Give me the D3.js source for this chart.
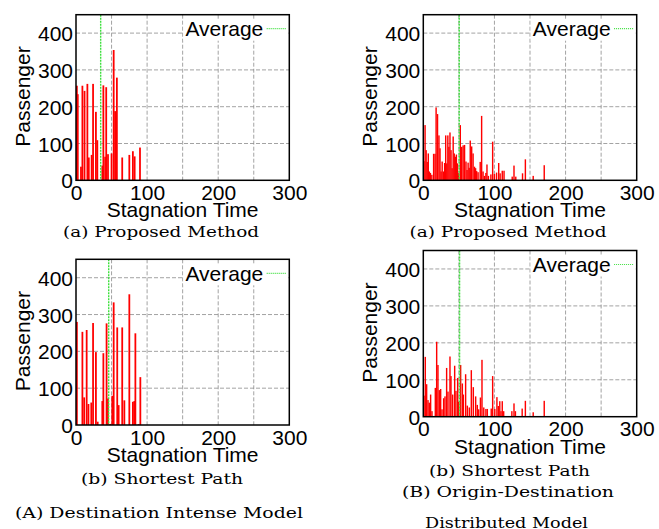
<!DOCTYPE html>
<html><head><meta charset="utf-8">
<script src="https://cdn.jsdelivr.net/npm/d3@7"></script>
<style>body{margin:0;background:#fff}svg{display:block}</style>
</head><body>
<svg id="c" width="659" height="529"></svg>
<script>
// ---------- data ----------
const xTickValues = [0, 100, 200, 300];
const xGridValues = [50, 100, 150, 200, 250];
const yTickValues = [0, 100, 200, 300, 400];
const xTitle = "Stagnation Time";
const yTitle = "Passenger";
const legendLabel = "Average";

// (A) Destination Intense Model – (a) Proposed Method
const p1Time = [0.5, 2.5, 7, 9, 12, 16, 18, 22, 24, 28, 30, 37, 38.5, 41, 42.5, 45, 50, 53, 55, 57.5, 65, 75, 80, 82.5, 90];
const p1Pass = [257, 234, 37, 257, 243, 262, 62, 69, 262, 186, 109, 40, 258, 64, 253, 71, 73, 354, 188, 279, 62, 69, 79, 65, 89];
const p1Average = 34.7;

// (B) Origin-Destination Distributed Model – (a) Proposed Method
const p2Time = [1, 2.5, 4, 5.5, 7, 8.5, 10, 12, 14.5, 16.5, 18, 20, 22, 23.5, 25, 26.5, 28.5, 30, 31.5, 33, 34.5, 36, 37.5, 39, 40.5, 42, 43.5, 45, 46.5, 48, 49.5, 52, 54, 56, 58, 60, 61.5, 63, 64.5, 66, 68, 70, 72, 73.5, 75, 77, 80, 82, 84, 86, 88, 89.5, 91.5, 95, 97.5, 100, 103, 106, 108, 111, 113.5, 125, 127.5, 130, 139.5, 143.5, 154.5, 170];
const p2Pass = [52, 150, 82, 50, 73, 24, 20, 15, 72, 72, 198, 180, 122, 87, 24, 51, 24, 47, 122, 46, 122, 91, 130, 82, 33, 119, 73, 64, 70, 46, 19, 150, 91, 95, 96, 51, 28, 48, 34, 108, 92, 73, 37, 33, 25, 22, 50, 175, 24, 12, 20, 43, 12, 16, 105, 17, 21, 47, 19, 26, 26, 10, 40, 10, 19, 57, 12, 41];
const p2Average = 50.5;

// (A) Destination Intense Model – (b) Shortest Path
const p3Time = [0.5, 9, 11.5, 15, 17.5, 21.5, 24, 28, 30.5, 37, 38.5, 43, 45, 48, 51, 53, 58, 60, 65, 68, 75, 80, 82, 83.5, 88, 90.5];
const p3Pass = [280, 253, 75, 258, 57, 61, 277, 198, 9, 65, 195, 276, 72, 3, 79, 333, 265, 54, 265, 67, 355, 63, 65, 249, 2, 130];
const p3Average = 46;

// (B) Origin-Destination Distributed Model – (b) Shortest Path
const p4Time = [1, 2.8, 4.7, 6.6, 8.4, 10.3, 12.2, 16.9, 18.8, 20.6, 22.5, 24.4, 26.3, 28.6, 30.5, 32.8, 34.7, 37.5, 38.9, 41.3, 44.1, 45.9, 48.3, 49.7, 52.5, 54.9, 56.3, 59.5, 61.9, 64.7, 67.5, 70.3, 73.6, 75.9, 77.8, 80.3, 82.5, 85, 88, 90, 95.5, 97.5, 100.5, 103.5, 105.5, 107.5, 109.2, 111, 113, 124.5, 127.5, 129.5, 139, 143.5, 154.5, 170];
const p4Pass = [57, 162, 88, 45, 38, 60, 15, 78, 203, 140, 72, 75, 20, 50, 55, 132, 68, 163, 110, 60, 138, 70, 105, 40, 140, 90, 60, 115, 30, 25, 126, 80, 55, 32, 20, 52, 154, 25, 21, 21, 22, 110, 21, 53, 29, 42, 15, 42, 15, 15, 36, 15, 22, 43, 12, 43];
const p4Average = 51;

const subCaptions = ["(a) Proposed Method", "(a) Proposed Method", "(b) Shortest Path", "(b) Shortest Path"];
const groupCaptions = ["(A) Destination Intense Model", "(B) Origin-Destination", "Distributed Model"];

// ---------- layout ----------
const svg = d3.select("#c");
const sans = "'Liberation Sans', Arial, Helvetica, sans-serif";
const serif = "'DejaVu Serif', 'Liberation Serif', serif";
const FS = 21;

const panels = [
  {time: p1Time, pass: p1Pass, avg: p1Average, left: 76, right: 289.3, top: 14.7, bottom: 180.3, bw: 2.5, cap: subCaptions[0], capX: 161, capY: 237, capW: 196},
  {time: p2Time, pass: p2Pass, avg: p2Average, left: 423.3, right: 636.7, top: 14.7, bottom: 180.3, bw: 2.0, cap: subCaptions[1], capX: 508, capY: 237, capW: 197},
  {time: p3Time, pass: p3Pass, avg: p3Average, left: 76, right: 289.3, top: 259.3, bottom: 425, bw: 2.5, cap: subCaptions[2], capX: 162, capY: 484, capW: 162},
  {time: p4Time, pass: p4Pass, avg: p4Average, left: 423.3, right: 636.7, top: 250.5, bottom: 416.7, bw: 2.0, cap: subCaptions[3], capX: 509.5, capY: 476, capW: 161}
];

panels.forEach(p => {
  const x = d3.scaleLinear().domain([0, 300]).range([p.left, p.right]);
  const y = d3.scaleLinear().domain([0, 450]).range([p.bottom, p.top]);
  const g = svg.append("g");

  // grid
  const grid = g.append("g").attr("stroke", "#8c8c8c").attr("stroke-width", 0.8).attr("stroke-dasharray", "4,2");
  grid.selectAll("line.v").data(xGridValues).join("line")
    .attr("x1", d => x(d)).attr("x2", d => x(d)).attr("y1", p.top).attr("y2", p.bottom);
  grid.selectAll("line.h").data(yTickValues.filter(d => d > 0)).join("line")
    .attr("y1", d => y(d)).attr("y2", d => y(d)).attr("x1", p.left).attr("x2", p.right);

  // bars
  const data = p.time.map((t, i) => ({t, v: p.pass[i]}));
  const w = x(p.bw) - x(0);
  g.append("g").selectAll("rect").data(data).join("rect")
    .attr("x", d => Math.max(p.left, x(d.t) - w / 2))
    .attr("width", w)
    .attr("y", d => y(d.v))
    .attr("height", d => y(0) - y(d.v))
    .attr("fill", "#ff0000");

  // average line
  g.append("line")
    .attr("x1", x(p.avg)).attr("x2", x(p.avg))
    .attr("y1", p.top).attr("y2", p.bottom)
    .attr("stroke", "#3ee03e").attr("stroke-width", 1.4).attr("stroke-dasharray", "2,1");

  // legend (opaque box)
  const legRight = p.right - 26;
  g.append("rect").attr("x", legRight - 80).attr("y", p.top + 5).attr("width", p.right - (legRight - 80) - 1).attr("height", 21).attr("fill", "#fff");
  g.append("text").attr("x", legRight).attr("y", p.top + 21.3)
    .attr("text-anchor", "end").attr("font-family", sans).attr("font-size", FS).attr("fill", "#000")
    .text(legendLabel);
  g.append("line").attr("x1", p.right - 22.6).attr("x2", p.right - 2.6)
    .attr("y1", p.top + 14).attr("y2", p.top + 14)
    .attr("stroke", "#3ee03e").attr("stroke-width", 1.2).attr("stroke-dasharray", "1,1");

  // frame
  g.append("rect").attr("x", p.left).attr("y", p.top).attr("width", p.right - p.left).attr("height", p.bottom - p.top)
    .attr("fill", "none").attr("stroke", "#000").attr("stroke-width", 1.5);

  // axes (labels only)
  const xAxis = d3.axisBottom(x).tickValues(xTickValues).tickSize(0).tickPadding(0).tickFormat(d3.format("d"));
  const xa = g.append("g").attr("transform", `translate(0,${p.bottom})`).call(xAxis);
  xa.select(".domain").remove();
  xa.selectAll("text").attr("font-family", sans).attr("font-size", FS).attr("fill", "#000").attr("dy", null).attr("y", 19.5);

  const yAxis = d3.axisLeft(y).tickValues(yTickValues).tickSize(0).tickPadding(3).tickFormat(d3.format("d"));
  const ya = g.append("g").attr("transform", `translate(${p.left},0)`).call(yAxis);
  ya.select(".domain").remove();
  ya.selectAll("text").attr("font-family", sans).attr("font-size", FS).attr("fill", "#000").attr("dy", "0.36em");

  // titles
  g.append("text").attr("x", (p.left + p.right) / 2).attr("y", p.bottom + 36.8)
    .attr("text-anchor", "middle").attr("font-family", sans).attr("font-size", FS).text(xTitle);
  g.append("text").attr("transform", `translate(${p.left - 46.5},${(p.top + p.bottom) / 2 - 1}) rotate(-90)`)
    .attr("text-anchor", "middle").attr("font-family", sans).attr("font-size", FS).text(yTitle);

  // sub caption
  g.append("text").attr("x", p.capX).attr("y", p.capY).attr("text-anchor", "middle")
    .attr("font-family", serif).attr("font-size", 14)
    .attr("textLength", p.capW).attr("lengthAdjust", "spacingAndGlyphs").text(p.cap);
});

const groupPos = [{x: 159, y: 518.3, w: 288}, {x: 508, y: 497.3, w: 212}, {x: 506.5, y: 528, w: 163}];
svg.append("g").selectAll("text").data(groupCaptions).join("text")
  .attr("x", (d, i) => groupPos[i].x).attr("y", (d, i) => groupPos[i].y)
  .attr("text-anchor", "middle").attr("font-family", serif).attr("font-size", 14)
  .attr("textLength", (d, i) => groupPos[i].w).attr("lengthAdjust", "spacingAndGlyphs")
  .text(d => d);
</script>
</body></html>
